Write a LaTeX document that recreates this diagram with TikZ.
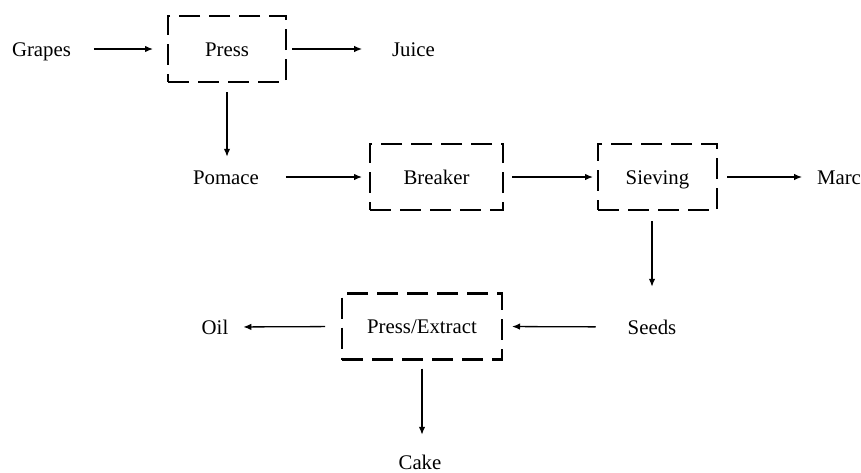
\documentclass[tikz,border=0pt]{standalone}
\usepackage{fontspec}
\setmainfont{Liberation Serif}
\usetikzlibrary{arrows.meta}
\begin{document}
\begin{tikzpicture}[x=1pt,y=-1pt,
  lbl/.style={inner sep=0pt,outer sep=0pt,text height=14.5pt,text depth=0pt,font=\fontsize{20.8}{24}\selectfont},
  procbox/.style={draw,line width=2.8pt,dash pattern=on 21pt off 9pt,line join=miter,inner sep=0pt,outer sep=0pt,
     text height=14.5pt,text depth=0pt,
     minimum width=#1,minimum height=66pt,font=\fontsize{20.8}{24}\selectfont},
  arr/.style={line width=1.3pt,-{Latex[length=8pt,width=6.5pt]}}]
\useasboundingbox (0,0) rectangle (861,472);
\node[lbl] (grapes) at (41.5,49) {Grapes};
\node[procbox=118pt] (press) at (227,49) {Press};
\node[lbl] (juice) at (413.5,49) {Juice};
\node[lbl] (pomace) at (226,177) {Pomace};
\node[procbox=133pt] (breaker) at (436.5,177) {Breaker};
\node[procbox=119pt] (sieving) at (657.5,177) {Sieving};
\node[lbl] (marc) at (839,177) {Marc};
\node[lbl] (seeds) at (652,327) {Seeds};
\node[procbox=160pt] (pe) at (422,326.5) {Press/Extract};
\node[lbl] (oil) at (215,327) {Oil};
\node[lbl] (cake) at (420,462) {Cake};

\draw[arr,shorten <=23pt,shorten >=15pt] (grapes.east) -- (press.west);
\draw[arr,shorten <=6pt,shorten >=30pt] (press.east) -- (juice.west);
\draw[arr,shorten <=10pt,shorten >=13pt] (press.south) -- (press.south |- pomace.north);
\draw[arr,shorten <=27pt,shorten >=8pt] (pomace.east) -- (breaker.west);
\draw[arr,shorten <=9pt,shorten >=5pt] (breaker.east) -- (sieving.west);
\draw[arr,shorten <=10pt,shorten >=15pt] (sieving.east) -- (marc.west);
\draw[arr,shorten <=11pt,shorten >=33pt] (seeds |- sieving.south) -- (seeds.north);
\draw[arr,shorten <=32pt,shorten >=10pt] (seeds.west) -- (pe.east);
\draw[arr,shorten <=17pt,shorten >=15pt] (pe.west) -- (oil.east);
\draw[arr,shorten <=9pt,shorten >=20pt] (pe.south) -- (pe.south |- cake.north);
\end{tikzpicture}
\end{document}
